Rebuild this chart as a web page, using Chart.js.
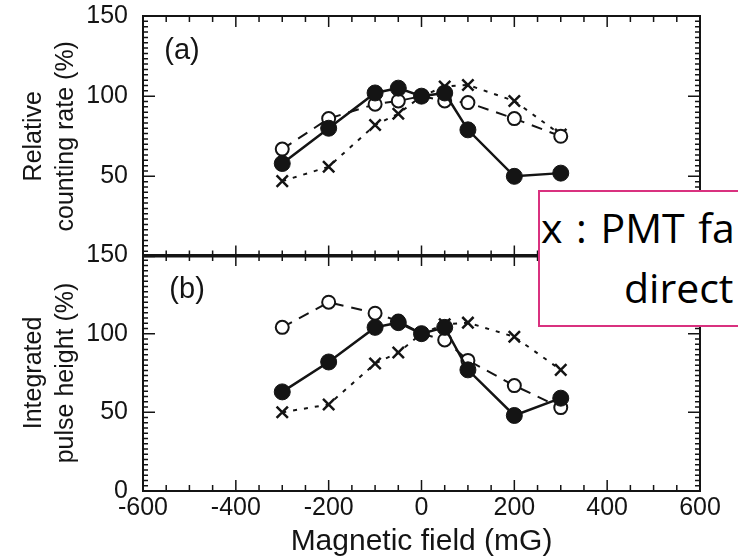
<!DOCTYPE html>
<html>
<head>
<meta charset="utf-8">
<script src="https://cdn.jsdelivr.net/npm/chart.js@4/dist/chart.umd.min.js"></script>
<style>
html,body{margin:0;padding:0;background:#fff;width:738px;height:557px;overflow:hidden;}
#wrap{position:relative;width:738px;height:557px;overflow:hidden;}
canvas{position:absolute;left:0;}
#cA{top:0;}
#cB{top:240px;}
#note{position:absolute;left:538px;top:190px;width:300px;height:137px;box-sizing:border-box;border:2px solid #d9317f;background:#fff;}
.nl{position:absolute;font-family:'Open Sans',sans-serif;font-size:41px;line-height:41px;color:#000;white-space:nowrap;}
</style>
</head>
<body>
<div id="wrap">
  <canvas id="cA" width="738" height="267" style="width:738px;height:267px"></canvas>
  <canvas id="cB" width="738" height="317" style="width:738px;height:317px"></canvas>
  <div id="note"></div>
  <div class="nl" style="left:541px;top:207px;word-spacing:3px">x : PMT fa</div>
  <div class="nl" style="left:624px;top:267px">direct</div>
</div>
<script>
// ---------- data ----------
const fieldMG = [-300, -200, -100, -50, 0, 50, 100, 200, 300];

const rateFilled = [58, 80, 102, 105, 100, 102, 79, 50, 52];
const rateOpen   = [67, 86, 95, 97, 100, 97, 96, 86, 75];
const rateCross  = [47, 56, 82, 89, 100, 106, 107, 97, 76];

const pulseFilled = [63, 82, 104, 107, 100, 104, 77, 48, 59];
const pulseOpen   = [104, 120, 113, 108, 100, 96, 83, 67, 53];
const pulseCross  = [50, 55, 81, 88, 100, 106, 107, 98, 77];

const xTickValues = [-600, -400, -200, 0, 200, 400, 600];
const yTicksA = [50, 100, 150];
const yTicksB = [0, 50, 100, 150];

const yTitleA = ['Relative', 'counting rate (%)'];
const yTitleB = ['Integrated', 'pulse height (%)'];
const xTitle = 'Magnetic field (mG)';

// ---------- styling ----------
const INK = '#141414';
const FONT = '"Liberation Sans", Arial, sans-serif';

function pts(vals) { return fieldMG.map((x, i) => ({x: x, y: vals[i]})); }

function datasets(filled, open, cross) {
  return [
    {data: pts(filled), borderColor: INK, borderWidth: 2.5, pointStyle: 'circle',
     pointRadius: 8, pointBackgroundColor: INK, pointBorderColor: INK, pointBorderWidth: 1},
    {data: pts(open), borderColor: INK, borderWidth: 2, borderDash: [11, 8], pointStyle: 'circle',
     pointRadius: 6.5, pointBackgroundColor: '#fff', pointBorderColor: INK, pointBorderWidth: 2},
    {data: pts(cross), borderColor: INK, borderWidth: 2, borderDash: [4, 7], pointStyle: 'crossRot',
     pointRadius: 8, pointBorderColor: INK, pointBorderWidth: 2.5}
  ];
}

const framePlugin = {
  id: 'frame',
  afterDatasetsDraw(chart, args, opts) {
    const {ctx, chartArea: {left, right, top, bottom}, scales: {x, y}} = chart;
    ctx.save();
    ctx.strokeStyle = INK;
    ctx.lineWidth = 2;
    ctx.strokeRect(left, top, right - left, bottom - top);
    ctx.lineWidth = 1.5;
    ctx.beginPath();
    for (let v = -600; v <= 600; v += 50) {
      const px = x.getPixelForValue(v);
      const L = (v % 200 === 0) ? 11 : 6;
      ctx.moveTo(px, bottom); ctx.lineTo(px, bottom - L);
      ctx.moveTo(px, top); ctx.lineTo(px, top + L);
    }
    for (let i = 0; i <= 45; i++) {
      const py = y.getPixelForValue(i * 10 / 3);
      const L = (i % 15 === 0) ? 12 : 5;
      ctx.moveTo(left, py); ctx.lineTo(left + L, py);
      ctx.moveTo(right, py); ctx.lineTo(right - L, py);
    }
    ctx.stroke();
    ctx.fillStyle = INK;
    ctx.font = '29px ' + FONT;
    ctx.textAlign = 'center';
    ctx.textBaseline = 'middle';
    ctx.fillText(opts.label, x.getPixelForValue(opts.lx), y.getPixelForValue(opts.ly));
    ctx.restore();
  }
};

function yScale(ticks, title) {
  return {
    type: 'linear', min: 0, max: 150,
    afterBuildTicks: s => { s.ticks = ticks.map(v => ({value: v})); },
    afterFit: s => { s.width = 143; s.paddingTop = 0; s.paddingBottom = 0; },
    grid: {display: false, drawTicks: false},
    border: {display: false},
    ticks: {color: INK, padding: 15, font: {family: FONT, size: 25, lineHeight: 1}},
    title: {display: true, text: title, color: INK,
            font: {family: FONT, size: 25, lineHeight: '32px'}, padding: {top: 18, bottom: 0}}
  };
}

function baseOptions() {
  return {
    responsive: false, animation: false, devicePixelRatio: 1,
    plugins: {legend: {display: false}, tooltip: {enabled: false}},
    elements: {line: {tension: 0, fill: false}}
  };
}

// Panel (a)
const optA = baseOptions();
optA.layout = {padding: {left: 0, right: 38, top: 16, bottom: 2}};
optA.scales = {
  x: {type: 'linear', min: -600, max: 600, display: false},
  y: yScale(yTicksA, yTitleA)
};
optA.plugins.frame = {label: '(a)', lx: -516, ly: 128};
new Chart(document.getElementById('cA'), {
  type: 'line',
  data: {datasets: datasets(rateFilled, rateOpen, rateCross)},
  options: optA,
  plugins: [framePlugin]
});

// Panel (b)
const optB = baseOptions();
optB.layout = {padding: {left: 0, right: 38, top: 15, bottom: 0}};
optB.scales = {
  x: {
    type: 'linear', min: -600, max: 600,
    afterBuildTicks: s => { s.ticks = xTickValues.map(v => ({value: v})); },
    afterFit: s => { s.height = 66; s.paddingLeft = 0; s.paddingRight = 0; },
    grid: {display: false, drawTicks: false},
    border: {display: false},
    ticks: {color: INK, padding: 5, maxRotation: 0, autoSkip: false,
            font: {family: FONT, size: 25, lineHeight: 1}},
    title: {display: true, text: xTitle, color: INK,
            font: {family: FONT, size: 30, lineHeight: 1}, padding: {top: 0, bottom: 0}}
  },
  y: yScale(yTicksB, yTitleB)
};
optB.plugins.frame = {label: '(b)', lx: -505, ly: 128};
new Chart(document.getElementById('cB'), {
  type: 'line',
  data: {datasets: datasets(pulseFilled, pulseOpen, pulseCross)},
  options: optB,
  plugins: [framePlugin]
});
</script>
</body>
</html>
